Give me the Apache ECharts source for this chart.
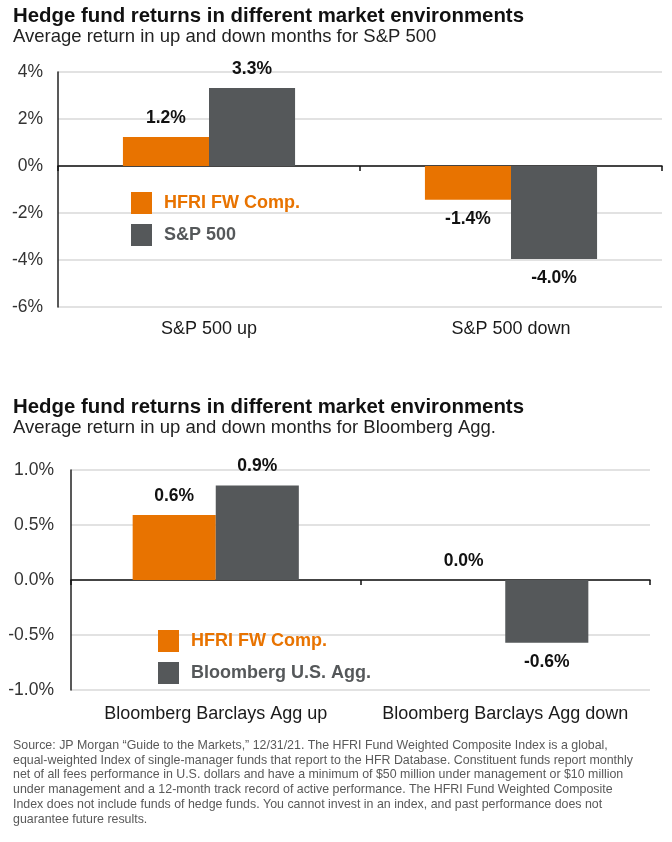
<!DOCTYPE html>
<html>
<head>
<meta charset="utf-8">
<script src="https://cdn.jsdelivr.net/npm/echarts@6/dist/echarts.min.js"></script>
<style>
  html, body { margin: 0; padding: 0; background: #fff; }
  #chart { width: 672px; height: 842px; }
</style>
</head>
<body>
<div id="chart"></div>
<script>
// top chart: S&P 500 up / down months
const spxCategories = ['S&P 500 up', 'S&P 500 down']
const spxHfri = [1.23, -1.44]
const spxIndex = [3.32, -3.96]

// bottom chart: Bloomberg Agg up / down months
const aggCategories = ['Bloomberg Barclays Agg up', 'Bloomberg Barclays Agg down']
const aggHfri = [0.59, 0.0]
const aggIndex = [0.86, -0.57]

const spxTicks = [-6, -4, -2, 0, 2, 4]
const aggTicks = [-1.0, -0.5, 0.0, 0.5, 1.0]

const titleText = 'Hedge fund returns in different market environments'
const spxSubtitle = 'Average return in up and down months for S&P 500'
const aggSubtitle = 'Average return in up and down months for Bloomberg Agg.'
const sourceText = [
  'Source: JP Morgan \u201cGuide to the Markets,\u201d 12/31/21. The HFRI Fund Weighted Composite Index is a global,',
  'equal-weighted Index of single-manager funds that report to the HFR Database. Constituent funds report monthly',
  'net of all fees performance in U.S. dollars and have a minimum of $50 million under management or $10 million',
  'under management and a 12-month track record of active performance. The HFRI Fund Weighted Composite',
  'Index does not include funds of hedge funds. You cannot invest in an index, and past performance does not',
  'guarantee future results.'
].join('\n')

const ORANGE = '#e87300'
const GRAY = '#55585a'
const FONT = "'Liberation Sans', Arial, sans-serif"

const chart = echarts.init(document.getElementById('chart'))

const barItems = (vals) => vals.map(v => ({
  value: v,
  label: { position: v < 0 ? 'bottom' : 'top' }
}))

const barLabel = {
  show: true,
  distance: 10,
  fontFamily: FONT,
  fontSize: 17.5,
  fontWeight: 'bold',
  color: '#111',
  formatter: (p) => p.value.toFixed(1) + '%'
}

const titleBlock = (top, sub) => ({
  left: 13,
  top: top,
  padding: 0,
  itemGap: 1,
  text: titleText,
  subtext: sub,
  textStyle: { fontFamily: FONT, fontSize: 20.4, fontWeight: 'bold', color: '#111' },
  subtextStyle: { fontFamily: FONT, fontSize: 18.5, color: '#222' }
})

// labels sit at the bottom of the grid
const labelAxis = (grid, cats, margin) => ({
  gridIndex: grid,
  type: 'category',
  data: cats,
  position: 'bottom',
  axisLine: { show: false, onZero: false },
  axisTick: { show: false },
  splitLine: { show: false },
  axisLabel: { interval: 0, margin: margin, fontFamily: FONT, fontSize: 18, color: '#1a1a1a' }
})

// black line + ticks on the zero value
const zeroAxis = (grid, cats) => ({
  gridIndex: grid,
  type: 'category',
  data: cats,
  position: 'bottom',
  axisLine: { onZero: true, lineStyle: { color: '#111', width: 1.5 } },
  axisTick: { show: true, length: 5, lineStyle: { color: '#111', width: 1.5 } },
  axisLabel: { show: false },
  splitLine: { show: false }
})

const valueAxis = (grid, ticks, interval, margin, fmt) => ({
  gridIndex: grid,
  type: 'value',
  min: ticks[0],
  max: ticks[ticks.length - 1],
  interval: interval,
  axisLine: { show: true, lineStyle: { color: '#222', width: 1.5 } },
  axisTick: { show: false },
  splitLine: { lineStyle: { color: '#d9d9d9', width: 1.5 } },
  axisLabel: { margin: margin, fontFamily: FONT, fontSize: 17.5, color: '#333', formatter: fmt }
})

const legendBlock = (left, top, names) => ({
  left: left,
  top: top,
  padding: 0,
  orient: 'vertical',
  icon: 'rect',
  itemWidth: 21,
  itemHeight: 22,
  itemGap: 10,
  selectedMode: false,
  textStyle: { fontFamily: FONT, fontSize: 18, fontWeight: 'bold', padding: [0, 0, 0, 7] },
  data: [
    { name: names[0], textStyle: { color: ORANGE } },
    { name: names[1], textStyle: { color: GRAY } }
  ]
})

chart.setOption({
  animation: false,
  textStyle: { fontFamily: FONT },
  title: [
    titleBlock(6, spxSubtitle),
    titleBlock(397, aggSubtitle),
    {
      left: 13,
      top: 738,
      padding: 0,
      text: sourceText,
      textStyle: { fontFamily: FONT, fontSize: 12.4, lineHeight: 14.8, fontWeight: 'normal', color: '#595959' }
    }
  ],
  legend: [
    legendBlock(131, 192, ['HFRI FW Comp.', 'S&P 500']),
    legendBlock(158, 630, ['HFRI FW Comp.', 'Bloomberg U.S. Agg.'])
  ],
  grid: [
    { left: 58, right: 10, top: 72, height: 235 },
    { left: 71, right: 22, top: 470, height: 220 }
  ],
  xAxis: [
    labelAxis(0, spxCategories, 13),
    zeroAxis(0, spxCategories),
    labelAxis(1, aggCategories, 15),
    zeroAxis(1, aggCategories)
  ],
  yAxis: [
    valueAxis(0, spxTicks, 2, 15, v => v + '%'),
    valueAxis(1, aggTicks, 0.5, 17, v => v.toFixed(1) + '%')
  ],
  series: [
    { name: 'HFRI FW Comp.', type: 'bar', xAxisIndex: 0, yAxisIndex: 0, barWidth: '28.5%', barGap: '0%',
      itemStyle: { color: ORANGE }, label: barLabel, data: barItems(spxHfri) },
    { name: 'S&P 500', type: 'bar', xAxisIndex: 0, yAxisIndex: 0, barWidth: '28.5%', barGap: '0%',
      itemStyle: { color: GRAY }, label: barLabel, data: barItems(spxIndex) },
    { name: 'HFRI FW Comp.', type: 'bar', xAxisIndex: 2, yAxisIndex: 1, barWidth: '28.7%', barGap: '0%',
      itemStyle: { color: ORANGE }, label: barLabel, data: barItems(aggHfri) },
    { name: 'Bloomberg U.S. Agg.', type: 'bar', xAxisIndex: 2, yAxisIndex: 1, barWidth: '28.7%', barGap: '0%',
      itemStyle: { color: GRAY }, label: barLabel, data: barItems(aggIndex) }
  ]
})

window.addEventListener('resize', () => chart.resize())
</script>
</body>
</html>
